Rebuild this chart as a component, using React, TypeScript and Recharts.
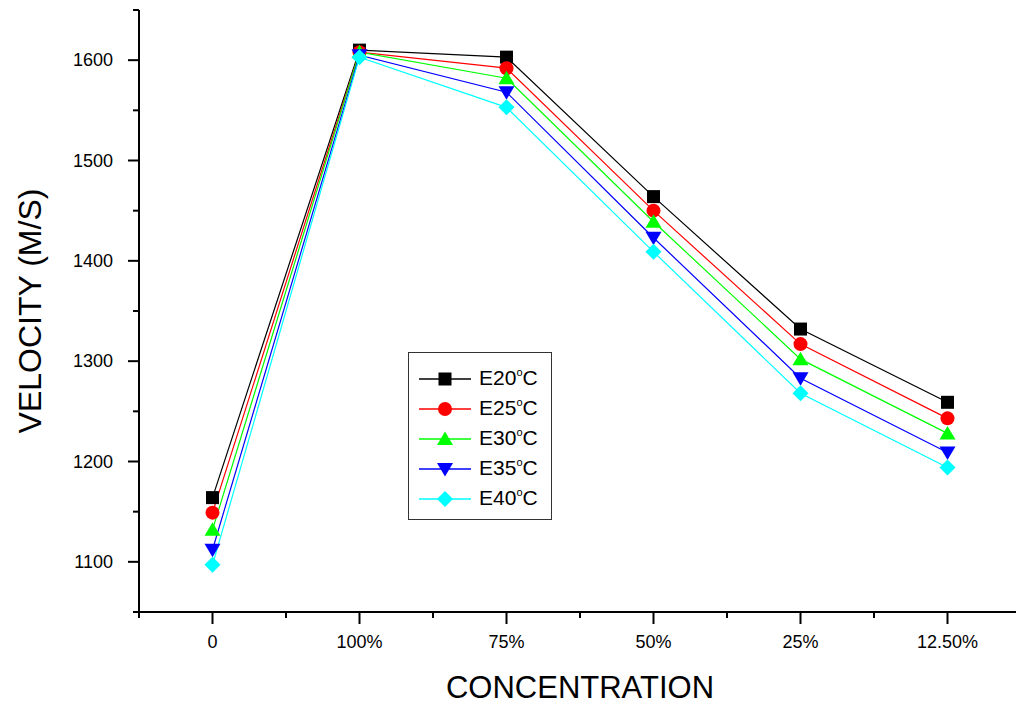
import React from 'react';
import { LineChart, Line, XAxis, YAxis, Legend } from 'recharts';

const categories = ['0', '100%', '75%', '50%', '25%', '12.50%'];
const e20 = [1164, 1610, 1603, 1464, 1332, 1259];
const e25 = [1149, 1608, 1592, 1450, 1317, 1243];
const e30 = [1132, 1608, 1582, 1439, 1302, 1228];
const e35 = [1112, 1605, 1568, 1423, 1283, 1209];
const e40 = [1097, 1603, 1553, 1409, 1268, 1194];
const yTicks = [1050, 1100, 1150, 1200, 1250, 1300, 1350, 1400, 1450, 1500, 1550, 1600, 1650];
const xTicks = [-0.5, 0, 0.5, 1, 1.5, 2, 2.5, 3, 3.5, 4, 4.5, 5, 5.5];

const series = [
  { key: 'e20', name: 'E20', color: '#000000', shape: 'square', values: e20 },
  { key: 'e25', name: 'E25', color: '#ff0000', shape: 'circle', values: e25 },
  { key: 'e30', name: 'E30', color: '#00ff00', shape: 'up', values: e30 },
  { key: 'e35', name: 'E35', color: '#0000ff', shape: 'down', values: e35 },
  { key: 'e40', name: 'E40', color: '#00ffff', shape: 'diamond', values: e40 },
];

const data = categories.map((c, i) => {
  const row: any = { x: i, label: c };
  series.forEach((s) => { row[s.key] = s.values[i]; });
  return row;
});

const FONT = '"Liberation Sans", Arial, sans-serif';

function Marker({ cx, cy, shape, color }: any) {
  if (cx == null || cy == null) return null;
  switch (shape) {
    case 'square':
      return <rect x={cx - 6.5} y={cy - 6.5} width={13} height={13} fill={color} />;
    case 'circle':
      return <circle cx={cx} cy={cy} r={7} fill={color} />;
    case 'up':
      return <polygon points={`${cx},${cy - 7.5} ${cx + 8},${cy + 6} ${cx - 8},${cy + 6}`} fill={color} />;
    case 'down':
      return <polygon points={`${cx},${cy + 7.5} ${cx + 8},${cy - 6} ${cx - 8},${cy - 6}`} fill={color} />;
    case 'diamond':
      return <polygon points={`${cx},${cy - 8} ${cx + 8},${cy} ${cx},${cy + 8} ${cx - 8},${cy}`} fill={color} />;
    default:
      return null;
  }
}

function YTick(props: any) {
  const { x, y, payload } = props;
  const v = payload.value;
  const major = v % 100 === 0;
  const showLabel = major && v >= 1100 && v <= 1600;
  const len = major ? 11 : 6;
  return (
    <g>
      <line x1={x} x2={x - len} y1={y} y2={y} stroke="#000" strokeWidth={2} />
      {showLabel && (
        <text x={x - 26} y={y} textAnchor="end" dominantBaseline="central" fontSize={18} fontFamily={FONT} fill="#000">
          {v}
        </text>
      )}
    </g>
  );
}

function XTick(props: any) {
  const { x, y, payload } = props;
  const v = payload.value;
  const major = Number.isInteger(v);
  const len = major ? 12 : 6;
  return (
    <g>
      <line x1={x} x2={x} y1={y} y2={y + len} stroke="#000" strokeWidth={2} />
      {major && (
        <text x={x} y={y + 30} textAnchor="middle" dominantBaseline="central" fontSize={18} fontFamily={FONT} fill="#000">
          {categories[v]}
        </text>
      )}
    </g>
  );
}

function LegendBox() {
  return (
    <div
      style={{
        border: '1.5px solid #333',
        width: 144,
        height: 168,
        boxSizing: 'border-box',
        background: '#fff',
        paddingTop: 11,
        fontFamily: FONT,
      }}
    >
      {series.map((s) => (
        <div key={s.key} style={{ display: 'flex', alignItems: 'center', height: 30 }}>
          <svg width={70} height={30} style={{ display: 'block' }}>
            <line x1={10} x2={62} y1={15} y2={15} stroke={s.color} strokeWidth={1.5} />
            <Marker cx={36} cy={15} shape={s.shape} color={s.color} />
          </svg>
          <span style={{ fontSize: 21, color: '#000', lineHeight: '30px' }}>
            {s.name}
            <span style={{ fontSize: 11, position: 'relative', top: -9 }}>o</span>C
          </span>
        </div>
      ))}
    </div>
  );
}

export default function App() {
  return (
    <div style={{ position: 'absolute', left: 0, top: 0, width: 1016, height: 704, overflow: 'hidden', background: '#fff' }}>
      <LineChart width={1021} height={704} data={data} margin={{ top: 10, right: 0, bottom: 0, left: 0 }}>
        <XAxis
          dataKey="x"
          type="number"
          domain={[-0.5, 5.5]}
          ticks={xTicks}
          interval={0}
          allowDataOverflow
          height={92}
          axisLine={{ stroke: '#000', strokeWidth: 2 }}
          tickLine={false}
          tickSize={0}
          tickMargin={0}
          tick={<XTick />}
          label={{
            content: (p: any) => {
              const vb = p.viewBox;
              return (
                <text x={vb.x + vb.width / 2} y={vb.y + 75} textAnchor="middle" dominantBaseline="central" fontSize={31} fontFamily={FONT} fill="#000">
                  CONCENTRATION
                </text>
              );
            },
          }}
        />
        <YAxis
          type="number"
          domain={[1050, 1650]}
          ticks={yTicks}
          interval={0}
          allowDataOverflow
          width={139}
          axisLine={{ stroke: '#000', strokeWidth: 2 }}
          tickLine={false}
          tickSize={0}
          tickMargin={0}
          tick={<YTick />}
          label={{
            content: (p: any) => {
              const vb = p.viewBox;
              const cx = vb.x + 30;
              const cy = vb.y + vb.height / 2;
              return (
                <text x={cx} y={cy} transform={`rotate(-90 ${cx} ${cy})`} textAnchor="middle" dominantBaseline="central" fontSize={32} fontFamily={FONT} fill="#000">
                  VELOCITY (M/S)
                </text>
              );
            },
          }}
        />
        <Legend
          layout="horizontal"
          verticalAlign="middle"
          align="center"
          content={() => <LegendBox />}
          wrapperStyle={{ position: 'absolute', left: 408, top: 352, width: 'auto', bottom: 'auto', right: 'auto' }}
        />
        {series.map((s) => (
          <Line
            key={s.key}
            dataKey={s.key}
            name={s.name}
            stroke={s.color}
            strokeWidth={1.2}
            isAnimationActive={false}
            dot={(p: any) => <Marker key={`${s.key}-${p.index}`} cx={p.cx} cy={p.cy} shape={s.shape} color={s.color} />}
            activeDot={false}
          />
        ))}
      </LineChart>
    </div>
  );
}
